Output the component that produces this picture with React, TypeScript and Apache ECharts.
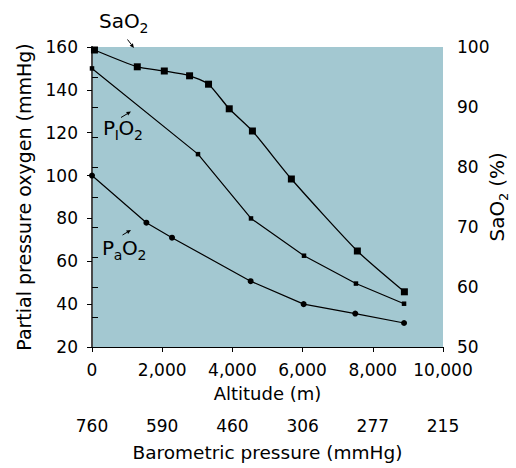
import React, { useEffect, useRef } from 'react';
import * as echarts from 'echarts';

const FONT = 'DejaVu Sans';

const altitudeTickLabels = ['0', '2,000', '4,000', '6,000', '8,000', '10,000'];
const pressureLabels = ['760', '590', '460', '306', '277', '215'];

const saAltitude = [70, 1290, 2060, 2780, 3320, 3910, 4570, 5680, 7560, 8900];
const saO2 = [99.5, 96.7, 96.0, 95.2, 93.8, 89.7, 86.0, 78.0, 66.0, 59.2];
const piAltitude = [0, 3020, 4530, 6040, 7520, 8890];
const piO2 = [150, 110, 80, 62.6, 49.6, 40.2];
const paAltitude = [0, 1550, 2280, 4520, 6030, 7500, 8890];
const paO2 = [100, 78, 71, 50.7, 40, 35.6, 31.2];

function measure(text: string, size: number): number {
  const c = document.createElement('canvas').getContext('2d');
  if (!c) return text.length * size * 0.6;
  c.font = `${size}px "${FONT}"`;
  return c.measureText(text).width;
}

type Piece = { t: string; sub?: boolean };

// lay out a label with subscripts; x,y = left, baseline (local coords)
function labelPieces(pieces: Piece[], x0: number, base: number, main: number, sub: number, subDrop: number) {
  const out: any[] = [];
  let x = x0;
  for (const p of pieces) {
    const size = p.sub ? sub : main;
    const b = p.sub ? base + subDrop : base;
    out.push({
      type: 'text',
      x,
      y: b - 0.346 * size,
      style: { text: p.t, fontSize: size, fontFamily: FONT, fill: '#000', align: 'left', verticalAlign: 'middle' },
    });
    x += measure(p.t, size) - 0.3;
  }
  return out;
}

function totalWidth(pieces: Piece[], main: number, sub: number) {
  return pieces.reduce((s, p) => s + measure(p.t, p.sub ? sub : main) - 0.3, 0);
}

function arrow(x1: number, y1: number, x2: number, y2: number) {
  const dx = x2 - x1, dy = y2 - y1;
  const L = Math.hypot(dx, dy);
  const ux = dx / L, uy = dy / L;
  const hl = 4.5, hw = 2;
  const bx = x2 - ux * hl, by = y2 - uy * hl;
  return [
    { type: 'line', shape: { x1, y1, x2: bx, y2: by }, style: { stroke: '#000', lineWidth: 1 } },
    {
      type: 'polygon',
      shape: { points: [[x2, y2], [bx - uy * hw, by + ux * hw], [bx + uy * hw, by - ux * hw]] },
      style: { fill: '#000' },
    },
  ];
}

export default function App() {
  const ref = useRef<HTMLDivElement>(null);
  useEffect(() => {
    if (!ref.current) return;
    const chart = echarts.init(ref.current, undefined, { renderer: 'svg' });
    const axisFont = { color: '#000', fontSize: 17, fontFamily: FONT };
    const nameFont = { color: '#000', fontSize: 19, fontFamily: FONT };

    const rightName: Piece[] = [{ t: 'SaO' }, { t: '2', sub: true }, { t: ' (%)' }];
    const rw = totalWidth(rightName, 20, 13);

    const option: any = {
      animation: false,
      grid: { left: 92, right: 73, top: 47, bottom: 121, show: true, backgroundColor: '#a3c8d1', borderWidth: 0 },
      xAxis: [
        {
          type: 'value', min: 0, max: 10000, interval: 2000, position: 'bottom',
          axisLine: { show: true, onZero: false, lineStyle: { color: '#000', width: 1 } },
          axisTick: { show: true, length: 5, lineStyle: { color: '#000' } },
          axisLabel: { ...axisFont, margin: 14, formatter: (v: number) => altitudeTickLabels[Math.round(v / 2000)] },
          splitLine: { show: false },
          name: 'Altitude (m)', nameLocation: 'middle', nameGap: 37, nameTextStyle: { ...nameFont, fontSize: 18 },
        },
        {
          type: 'value', min: 0, max: 10000, interval: 2000, position: 'bottom', offset: 56,
          axisLine: { show: false }, axisTick: { show: false },
          axisLabel: { ...axisFont, margin: 14, formatter: (v: number) => pressureLabels[Math.round(v / 2000)] },
          splitLine: { show: false },
          name: 'Barometric pressure (mmHg)', nameLocation: 'middle', nameGap: 40, nameTextStyle: { ...nameFont, fontSize: 18.5 },
        },
      ],
      yAxis: [
        {
          type: 'value', min: 20, max: 160, interval: 20, position: 'left',
          axisLine: { show: true, lineStyle: { color: '#000', width: 1 } },
          axisTick: { show: true, length: 5, lineStyle: { color: '#000' } },
          axisLabel: { ...axisFont, margin: 14 },
          splitLine: { show: false },
          name: 'Partial pressure oxygen (mmHg)', nameLocation: 'middle', nameGap: 59, nameTextStyle: nameFont,
        },
        {
          type: 'value', min: 50, max: 100, interval: 10, position: 'right',
          axisLine: { show: true, lineStyle: { color: '#4a4a4a', width: 2 } },
          axisTick: { show: true, length: 6, lineStyle: { color: '#000' } },
          minorTick: { show: true, splitNumber: 2, length: 6, lineStyle: { color: '#000' } },
          axisLabel: { ...axisFont, margin: 14 },
          splitLine: { show: false },
        },
      ],
      series: [
        {
          type: 'line', name: 'SaO2', yAxisIndex: 1, xAxisIndex: 0,
          data: saAltitude.map((a, i) => [a, saO2[i]]),
          symbol: 'rect', symbolSize: 7, smooth: 0.2,
          lineStyle: { color: '#000', width: 1.3 }, itemStyle: { color: '#000' },
        },
        {
          type: 'line', name: 'PIO2', yAxisIndex: 0, xAxisIndex: 0,
          data: piAltitude.map((a, i) => [a, piO2[i]]),
          symbol: 'rect', symbolSize: 4.5,
          lineStyle: { color: '#000', width: 1.2 }, itemStyle: { color: '#000' },
        },
        {
          type: 'line', name: 'PaO2', yAxisIndex: 0, xAxisIndex: 0,
          data: paAltitude.map((a, i) => [a, paO2[i]]),
          symbol: 'circle', symbolSize: 6,
          lineStyle: { color: '#000', width: 1.2 }, itemStyle: { color: '#000' },
        },
      ],
      graphic: [
        ...labelPieces([{ t: 'SaO' }, { t: '2', sub: true }], 99, 27.5, 20, 14, 5),
        ...arrow(127.5, 39.5, 134, 48),
        ...labelPieces([{ t: 'P' }, { t: 'I', sub: true }, { t: 'O' }, { t: '2', sub: true }], 103, 135, 20, 14, 5),
        ...arrow(121, 117.5, 131, 111.5),
        ...labelPieces([{ t: 'P' }, { t: 'a', sub: true }, { t: 'O' }, { t: '2', sub: true }], 102, 255, 20, 14, 5),
        ...arrow(122.5, 235, 131, 230),
        {
          type: 'group', x: 498, y: 197, rotation: Math.PI / 2,
          children: labelPieces(rightName, -rw / 2, 6, 20, 13, 3.5),
        },
      ],
    };
    chart.setOption(option);
    return () => chart.dispose();
  }, []);
  return <div ref={ref} style={{ position: 'absolute', left: 0, top: 0, width: 516, height: 468 }} />;
}
